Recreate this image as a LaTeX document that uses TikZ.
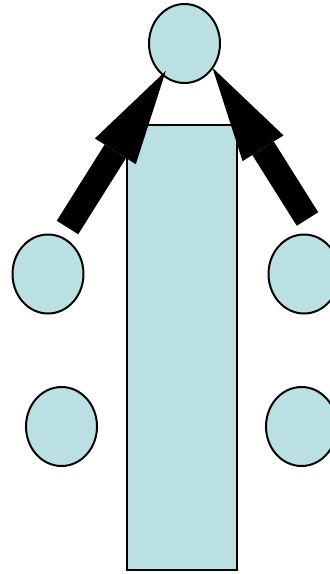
\documentclass[tikz,border=0pt]{standalone}
\usepackage{xcolor}
\usetikzlibrary{shapes.geometric,arrows.meta,positioning}
\definecolor{paleblue}{RGB}{187,224,227}

\begin{document}
\begin{tikzpicture}[
    x=0.03cm, y=-0.03cm,
    blob/.style={ellipse, draw, line width=1.7pt, fill=paleblue, inner sep=0pt, outer sep=0pt, minimum width=2.13cm, minimum height=2.37cm},
    slab/.style={rectangle, draw, line width=1.7pt, fill=paleblue, inner sep=0pt, minimum width=3.3cm, minimum height=13.35cm},
    bigarrow/.style={-{Triangle[length=2.85cm, width=1.45cm, line width=0pt]}, line width=0.76cm},
]
\clip (0,0) rectangle (330,574);
\useasboundingbox (0,0) rectangle (330,574);

% Top and column
\node[blob] (top) at (184.5,43.5) {};
\node[slab] (column) at (182,347.5) {};

% Side circles
\node[blob] (left1) at (48,274) {};
\node[blob] (left2) at (61.5,426.5) {};
\node[blob] (right1) at (304,274) {};
\node[blob] (right2) at (301.5,426.5) {};

% Arrows
\coordinate (tailL) at (67.5,227.5);
\coordinate (tailR) at (307.5,219);
\draw[bigarrow, shorten >=-0.15cm] (tailL) -- (top.-124);
\draw[bigarrow] (tailR) -- (top.-41);

\end{tikzpicture}
\end{document}
